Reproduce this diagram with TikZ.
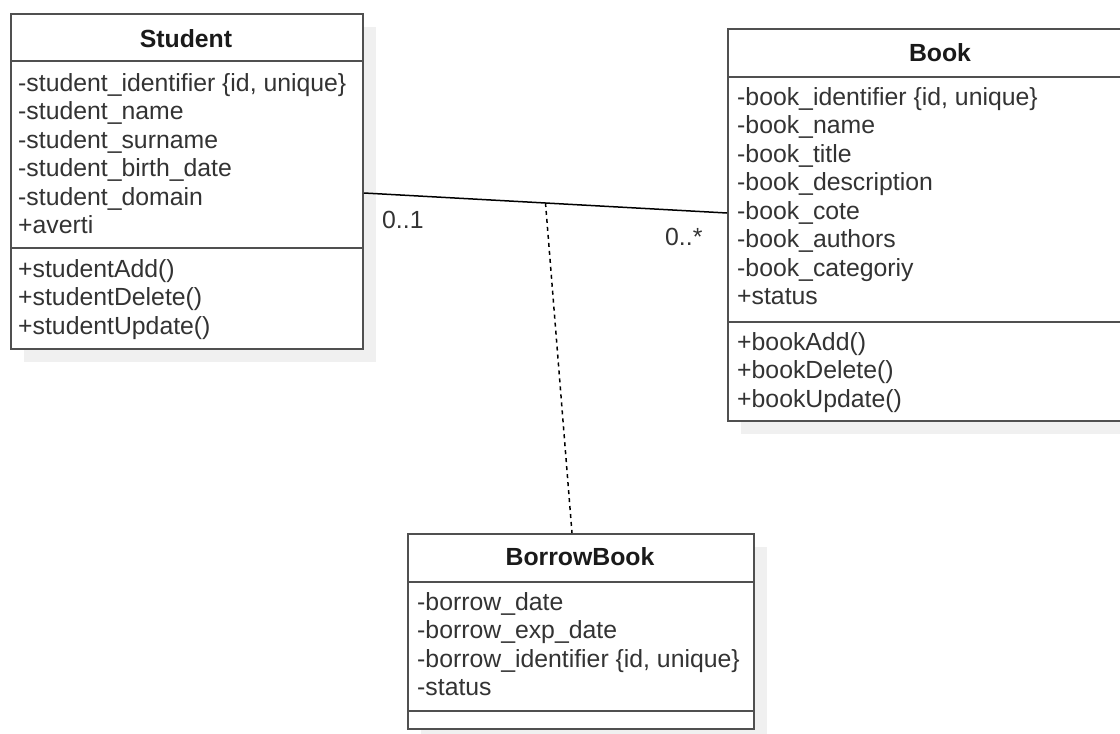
\documentclass[tikz,border=0pt]{standalone}
\usepackage{fontspec}
\setmainfont{Liberation Sans}
\definecolor{framec}{HTML}{505050}
\definecolor{textc}{HTML}{333333}
\definecolor{titlec}{HTML}{1A1A1A}
\definecolor{shadowc}{HTML}{F0F0F0}
\tikzset{
  classbox/.style={draw=framec, line width=2pt, fill=white, rectangle, inner sep=0pt, anchor=north west},
  sepline/.style={draw=framec, line width=2pt},
  member/.style={anchor=base west, inner sep=0pt, text=textc, font=\fontsize{24.8}{28}\selectfont},
  ctitle/.style={anchor=base, inner sep=0pt, text=titlec, font=\fontsize{24.8}{28}\selectfont\bfseries},
  assoc/.style={draw=black, line width=1.5pt},
  assocdash/.style={draw=black, line width=1.5pt, dash pattern=on 4pt off 4pt},
  mult/.style={anchor=base west, inner sep=0pt, text=textc, font=\fontsize{24.8}{28}\selectfont}
}
\begin{document}
\begin{tikzpicture}[x=1pt, y=-1pt]
\useasboundingbox (0,0) rectangle (1120,734);

% drop shadows
\fill[shadowc] (24,27) rectangle (376,362);
\fill[shadowc] (741,42) rectangle (1167,434);
\fill[shadowc] (421,547) rectangle (767,742);

% Student class
\node[classbox, minimum width=352pt, minimum height=335pt] (student) at (10,13) {};
\draw[sepline] (student.west |- 0,61) -- (student.east |- 0,61);
\draw[sepline] (student.west |- 0,248) -- (student.east |- 0,248);
\node[ctitle] (stitle) at (186,47) {Student};
\foreach \t [count=\i from 0] in {{-student\_identifier \{id, unique\}}, -student\_name, -student\_surname, -student\_birth\_date, -student\_domain, +averti}
  \node[member] (sa\i) at (18, 91+28.5*\i) {\t};
\foreach \t [count=\i from 0] in {+studentAdd(), +studentDelete(), +studentUpdate()}
  \node[member] (sm\i) at (18, 277+28.5*\i) {\t};

% Book class
\node[classbox, minimum width=426pt, minimum height=392pt] (book) at (727,28) {};
\draw[sepline] (book.west |- 0,77) -- (book.east |- 0,77);
\draw[sepline] (book.west |- 0,322) -- (book.east |- 0,322);
\node[ctitle] (btitle) at (940,61) {Book};
\foreach \t [count=\i from 0] in {{-book\_identifier \{id, unique\}}, -book\_name, -book\_title, -book\_description, -book\_cote, -book\_authors, -book\_categoriy, +status}
  \node[member] (ba\i) at (737, 105+28.5*\i) {\t};
\foreach \t [count=\i from 0] in {+bookAdd(), +bookDelete(), +bookUpdate()}
  \node[member] (bm\i) at (737, 350+28.5*\i) {\t};

% BorrowBook association class
\node[classbox, minimum width=346pt, minimum height=195pt] (borrow) at (407,533) {};
\draw[sepline] (borrow.west |- 0,582) -- (borrow.east |- 0,582);
\draw[sepline] (borrow.west |- 0,711) -- (borrow.east |- 0,711);
\node[ctitle] (rtitle) at (580,565) {BorrowBook};
\foreach \t [count=\i from 0] in {-borrow\_date, -borrow\_exp\_date, {-borrow\_identifier \{id, unique\}}, -status}
  \node[member] (ra\i) at (417, 610+28.5*\i) {\t};

% association and its class link
\draw[assoc] ([yshift=-11.5pt]student.east) -- coordinate[pos=0.5] (mid) ([yshift=12pt]book.west);
\draw[assocdash] (mid) -- ([xshift=-9pt]borrow.north);

% multiplicities
\node[mult] (m1) at (382,228) {0..1};
\node[mult] (m2) at (665,245) {0..*};
\end{tikzpicture}
\end{document}
